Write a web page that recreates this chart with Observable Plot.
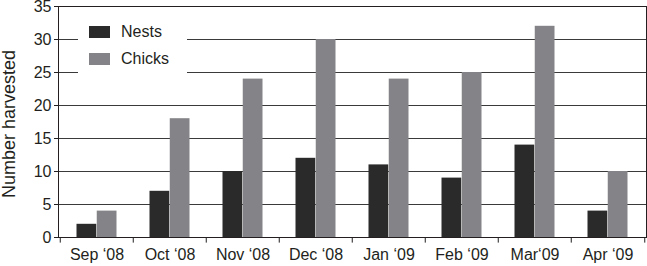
<!DOCTYPE html>
<html>
<head>
<meta charset="utf-8">
<script src="https://cdn.jsdelivr.net/npm/d3@7"></script>
<script src="https://cdn.jsdelivr.net/npm/@observablehq/plot@0.6"></script>
<style>
  html, body { margin: 0; padding: 0; background: white; }
  #wrap { position: relative; width: 647px; height: 266px; font-family: "Liberation Sans", Arial, Helvetica, sans-serif; color: #231f20; }
  #legend { position: absolute; left: 78px; top: 18px; width: 109px; height: 58px; background: white; font-size: 16px; }
  .row { position: absolute; left: 11px; display: flex; align-items: center; }
  .sw { width: 21px; height: 12px; margin-right: 11px; }
  #ylab { position: absolute; left: 9px; top: 124px; transform: translate(-50%, -50%) rotate(-90deg); white-space: nowrap; font-size: 18px; }
</style>
</head>
<body>
<div id="wrap"></div>
<script>
const months = ["Sep \u201808", "Oct \u201808", "Nov \u201808", "Dec \u201808", "Jan \u201809", "Feb \u201809", "Mar\u201809", "Apr \u201809"];
const nests  = [2, 7, 10, 12, 11, 9, 14, 4];
const chicks = [4, 18, 24, 30, 24, 25, 32, 10];
const seriesNames = ["Nests", "Chicks"];
const seriesColors = ["#2b2a2b", "#848488"];
const yTicks = [0, 5, 10, 15, 20, 25, 30, 35];

const W = 647, H = 266, mL = 58, mR = 1, mT = 6, mB = 29;
const band = (W - mL - mR) / months.length;
const outer = 16.5, mid = band / 2;

const chart = Plot.plot({
  width: W, height: H,
  marginLeft: mL, marginRight: mR, marginTop: mT, marginBottom: mB,
  style: { fontFamily: "'Liberation Sans', Arial, Helvetica, sans-serif", fontSize: "16px", color: "#231f20", background: "white", overflow: "visible" },
  x: { domain: months, padding: 0, label: null, tickSize: 0, tickPadding: 11 },
  y: { domain: [0, 35], ticks: yTicks, tickSize: 4, tickPadding: 3, label: null },
  marks: [
    Plot.ruleY(yTicks.filter(d => d > 0), { stroke: "#3a3a3a", strokeWidth: 1 }),
    Plot.barY(nests, { x: (d, i) => months[i], y: d => d, fill: seriesColors[0], insetLeft: outer, insetRight: mid }),
    Plot.barY(chicks, { x: (d, i) => months[i], y: d => d, fill: seriesColors[1], insetLeft: mid, insetRight: outer }),
    Plot.ruleX(months, { x: d => d, dx: -band / 2, y1: 0, y2: -0.85, stroke: "#231f20" }),
    Plot.ruleX(months.slice(-1), { x: d => d, dx: band / 2, y1: 0, y2: -0.85, stroke: "#231f20" }),
    Plot.frame({ stroke: "#231f20" })
  ]
});

const wrap = document.getElementById("wrap");
wrap.appendChild(chart);

const ylab = document.createElement("div");
ylab.id = "ylab";
ylab.textContent = "Number harvested";
wrap.appendChild(ylab);

const legend = document.createElement("div");
legend.id = "legend";
seriesNames.forEach((name, i) => {
  const row = document.createElement("div");
  row.className = "row";
  row.style.top = (i === 0 ? 5 : 32) + "px";
  const sw = document.createElement("div");
  sw.className = "sw";
  sw.style.background = seriesColors[i];
  const t = document.createElement("span");
  t.textContent = name;
  row.appendChild(sw);
  row.appendChild(t);
  legend.appendChild(row);
});
wrap.appendChild(legend);
</script>
</body>
</html>
